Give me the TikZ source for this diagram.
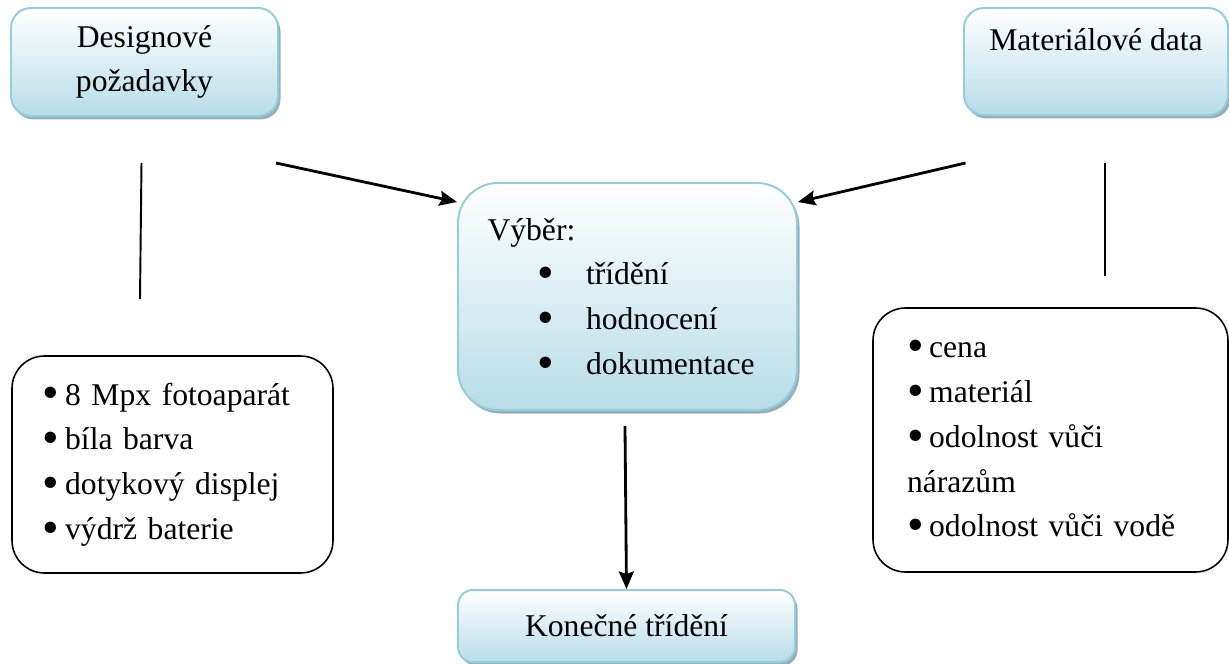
\documentclass[tikz,border=0pt]{standalone}
\usepackage{fontspec}
\setmainfont{Liberation Serif}
\usepackage{graphicx}
\usepackage{tikz}
\usetikzlibrary{shapes,arrows,arrows.meta,positioning,shadows}
\definecolor{boxblue}{RGB}{183,221,232}
\definecolor{edgeblue}{RGB}{146,205,221}
\definecolor{shadowblue}{RGB}{140,166,178}
\newcommand{\bigdot}{\smash{\raisebox{-0.12em}{\scalebox{1.5}{\textbullet}}}}

\begin{document}
\begin{tikzpicture}[
    topic/.style={rectangle, rounded corners=0.4cm, draw=edgeblue, line width=1.1pt, top color=white, bottom color=boxblue, align=center, drop shadow={shadow xshift=0.05cm, shadow yshift=-0.07cm, fill=shadowblue, opacity=0.9}},
    list/.style={rectangle, rounded corners=0.65cm, draw=black, line width=0.9pt, align=left},
    arrow/.style={-{Stealth[length=10pt,width=8.5pt,inset=1.5pt]}, line width=1.6pt},
    stroke/.style={line width=1.1pt},
    font=\fontsize{18}{25.5}\selectfont
]
    \useasboundingbox (0,0) rectangle (24.58,-13.28);

    % blue boxes
    \node[topic, minimum width=5.34cm, minimum height=2.16cm] (design) at (2.89,-1.24) {Designové\\požadavky};
    \node[topic, minimum width=5.28cm, minimum height=2.14cm] (material) at (21.92,-1.23) {Materiálové data\\~};
    \node[topic, rounded corners=0.8cm, minimum width=6.78cm, minimum height=4.54cm, text width=5.6cm, align=left] (choice) at (12.55,-5.93)
        {Výběr:\\
         \hspace*{1.0cm}\makebox[0.97cm][l]{\bigdot}třídění\\
         \hspace*{1.0cm}\makebox[0.97cm][l]{\bigdot}hodnocení\\
         \hspace*{1.0cm}\makebox[0.97cm][l]{\bigdot}dokumentace};
    \node[topic, rounded corners=0.3cm, minimum width=6.74cm, minimum height=1.44cm] (final) at (12.53,-12.52) {Konečné třídění};

    % white lists
    \node[list, minimum width=6.42cm, minimum height=4.34cm, text width=5.18cm] (designlist) at (3.45,-9.29)
        {\makebox[0.7em][l]{\bigdot}8 Mpx fotoaparát\\\makebox[0.7em][l]{\bigdot}bíla barva\\\makebox[0.7em][l]{\bigdot}dotykový displej\\\makebox[0.7em][l]{\bigdot}výdrž baterie};
    \node[list, minimum width=7.10cm, minimum height=5.28cm, text width=5.74cm] (materiallist) at (21.01,-8.80)
        {\makebox[0.7em][l]{\bigdot}cena\\\makebox[0.7em][l]{\bigdot}materiál\\\makebox[0.7em][l]{\bigdot}odolnost vůči\\nárazům\\\makebox[0.7em][l]{\bigdot}odolnost vůči vodě};

    % free ends
    \coordinate (designtop) at (2.83,-3.26);
    \coordinate (designbot) at (2.80,-5.98);
    \coordinate (materialtop) at (22.10,-3.26);
    \coordinate (materialbot) at (22.10,-5.52);
    \coordinate (designout) at (5.52,-3.26);
    \coordinate (materialout) at (19.31,-3.26);
    \coordinate (choiceout) at (12.50,-8.52);

    \draw[stroke] (designtop) -- (designbot);
    \draw[stroke] (materialtop) -- (materialbot);
    \draw[arrow] (designout) -- (choice.151);
    \draw[arrow] (materialout) -- (choice.29);
    \draw[arrow] (choiceout) -- (final.north);
\end{tikzpicture}
\end{document}
